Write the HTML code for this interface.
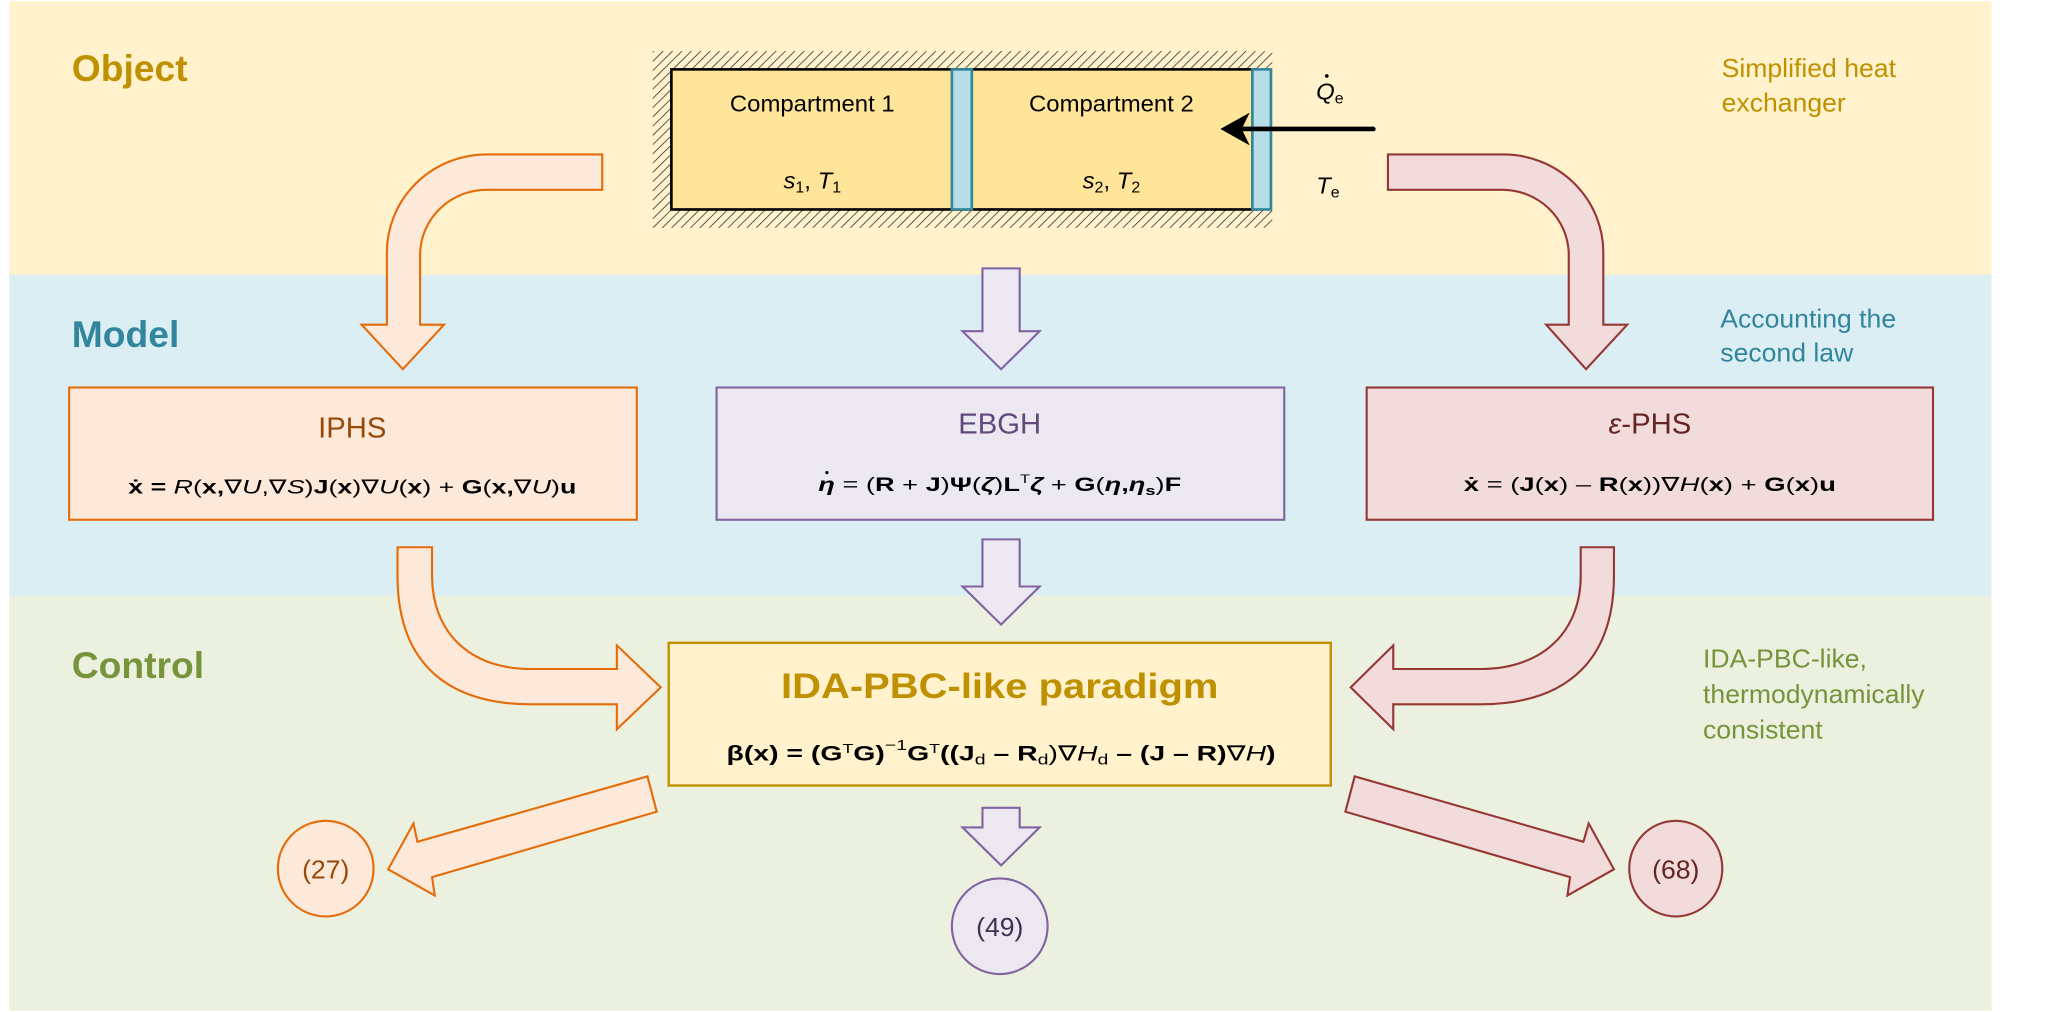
<!DOCTYPE html>
<html><head><meta charset="utf-8"><style>
html,body{margin:0;padding:0;background:#fff;}
svg{display:block;}
text{font-family:"Liberation Sans",Arial,sans-serif;}
</style></head><body>
<svg width="2054" height="1012" viewBox="0 0 1545 773" preserveAspectRatio="none" xmlns="http://www.w3.org/2000/svg">
<defs>
<pattern id="h" patternUnits="userSpaceOnUse" width="5" height="5" patternTransform="rotate(45)">
<rect width="5" height="5" fill="#fff2cc"/><line x1="0" y1="0" x2="0" y2="5" stroke="#333" stroke-width="1.2"/></pattern>
</defs>
<rect x="7" y="1" width="1491" height="210" fill="#fff2cc"/>
<rect x="7" y="210" width="1491" height="245" fill="#dbeef4"/>
<rect x="7" y="455" width="1491" height="317" fill="#ebf1de"/>

<text x="54" y="62" font-size="28" font-weight="bold" fill="#bf9000">Object</text>
<text x="54" y="265" font-size="28" font-weight="bold" fill="#31859c">Model</text>
<text x="54" y="518" font-size="28" font-weight="bold" fill="#77933c">Control</text>

<text x="1295" y="59" font-size="20" fill="#bf9000">Simplified heat</text>
<text x="1295" y="85" font-size="20" fill="#bf9000">exchanger</text>
<text x="1294" y="250" font-size="20" fill="#31859c">Accounting the</text>
<text x="1294" y="276" font-size="20" fill="#31859c">second law</text>
<text x="1281" y="510" font-size="20" fill="#77933c">IDA-PBC-like,</text>
<text x="1281" y="537" font-size="20" fill="#77933c">thermodynamically</text>
<text x="1281" y="564" font-size="20" fill="#77933c">consistent</text>

<rect x="491" y="39" width="466" height="135" fill="url(#h)"/>
<rect x="505" y="53" width="440" height="107" fill="#ffe599" stroke="#000" stroke-width="2"/>
<rect x="716" y="53" width="15" height="107" fill="#b7dee8" stroke="#31859c" stroke-width="2"/>
<rect x="942" y="53" width="14" height="107" fill="#b7dee8" stroke="#31859c" stroke-width="2"/>
<text x="611" y="85" font-size="18" text-anchor="middle">Compartment 1</text>
<text x="836" y="85" font-size="18" text-anchor="middle">Compartment 2</text>
<text x="611" y="144" font-size="18" text-anchor="middle"><tspan font-style="italic">s</tspan><tspan font-size="12" dy="3">1</tspan><tspan dy="-3">, </tspan><tspan font-style="italic">T</tspan><tspan font-size="12" dy="3">1</tspan></text>
<text x="836" y="144" font-size="18" text-anchor="middle"><tspan font-style="italic">s</tspan><tspan font-size="12" dy="3">2</tspan><tspan dy="-3">, </tspan><tspan font-style="italic">T</tspan><tspan font-size="12" dy="3">2</tspan></text>
<line x1="1033" y1="98.5" x2="935" y2="98.5" stroke="#000" stroke-width="3.5" stroke-linecap="round"/>
<polygon points="918,98.5 940,86 934,98.5 940,111" fill="#000"/>
<text x="990" y="76" font-size="18" font-style="italic">Q<tspan font-size="12" font-style="normal" dy="3">e</tspan></text>
<circle cx="998" cy="58" r="1.4" fill="#000"/>
<text x="990" y="148" font-size="18" font-style="italic">T<tspan font-size="12" font-style="normal" dy="3">e</tspan></text>

<path d="M453,118 L366,118 A75,75 0 0 0 291,193 L291,248 L272,248 L303,282 L334,248 L316,248 L316,193 A50,50 0 0 1 366,145 L453,145 Z" fill="#fde9d9" stroke="#e46c0a" stroke-width="1.6"/>
<path d="M1044,118 L1131,118 A75,75 0 0 1 1206,193 L1206,248 L1224,248 L1193,282 L1163,248 L1180,248 L1180,193 A50,50 0 0 0 1131,145 L1044,145 Z" fill="#f2dcdb" stroke="#953735" stroke-width="1.6"/>
<polygon points="739,205 767,205 767,253 782,253 753,282 724,253 739,253" fill="#ebe8f1" stroke="#8064a2" stroke-width="1.6"/>

<rect x="52" y="296" width="427" height="101" fill="#fde9d9" stroke="#e46c0a" stroke-width="1.6"/>
<text x="265" y="334" font-size="22" fill="#984807" text-anchor="middle">IPHS</text>
<text x="265" y="377" font-size="15" font-weight="bold" text-anchor="middle" textLength="337" lengthAdjust="spacingAndGlyphs">ẋ = <tspan font-style="italic" font-weight="normal">R</tspan><tspan font-weight="normal">(</tspan>x,<tspan font-weight="normal">∇</tspan><tspan font-style="italic" font-weight="normal">U</tspan><tspan font-weight="normal">,∇</tspan><tspan font-style="italic" font-weight="normal">S</tspan><tspan font-weight="normal">)</tspan>J<tspan font-weight="normal">(</tspan>x<tspan font-weight="normal">)∇</tspan><tspan font-style="italic" font-weight="normal">U</tspan><tspan font-weight="normal">(</tspan>x<tspan font-weight="normal">) + </tspan>G<tspan font-weight="normal">(</tspan>x,<tspan font-weight="normal">∇</tspan><tspan font-style="italic" font-weight="normal">U</tspan><tspan font-weight="normal">)</tspan>u</text>

<rect x="539" y="296" width="427" height="101" fill="#ebe8f1" stroke="#8064a2" stroke-width="1.6"/>
<text x="752" y="331" font-size="22" fill="#5f497a" text-anchor="middle">EBGH</text>
<text x="752" y="375" font-size="15" font-weight="bold" text-anchor="middle" textLength="273" lengthAdjust="spacingAndGlyphs"><tspan font-style="italic">η</tspan><tspan font-weight="normal"> = (</tspan>R<tspan font-weight="normal"> + </tspan>J<tspan font-weight="normal">)</tspan>Ψ<tspan font-weight="normal">(</tspan><tspan font-style="italic">ζ</tspan><tspan font-weight="normal">)</tspan>L<tspan font-size="9" font-weight="normal" dy="-6">T</tspan><tspan font-style="italic" dy="6">ζ</tspan><tspan font-weight="normal"> + </tspan>G<tspan font-weight="normal">(</tspan><tspan font-style="italic">η</tspan>,<tspan font-style="italic">η</tspan><tspan font-size="10" dy="3">s</tspan><tspan font-weight="normal" dy="-3">)</tspan>F</text>
<circle cx="622" cy="361" r="1.2" fill="#000"/>

<rect x="1028" y="296" width="426" height="101" fill="#f2dcdb" stroke="#953735" stroke-width="1.6"/>
<text x="1241" y="331" font-size="22" fill="#632523" text-anchor="middle"><tspan font-style="italic">ε</tspan>-PHS</text>
<text x="1241" y="375" font-size="15" font-weight="bold" text-anchor="middle" textLength="280" lengthAdjust="spacingAndGlyphs">ẋ<tspan font-weight="normal"> = (</tspan>J<tspan font-weight="normal">(</tspan>x<tspan font-weight="normal">) – </tspan>R<tspan font-weight="normal">(</tspan>x<tspan font-weight="normal">))∇</tspan><tspan font-style="italic" font-weight="normal">H</tspan><tspan font-weight="normal">(</tspan>x<tspan font-weight="normal">) + </tspan>G<tspan font-weight="normal">(</tspan>x<tspan font-weight="normal">)</tspan>u</text>

<polygon points="739,412 767,412 767,448 782,448 753,477 724,448 739,448" fill="#ebe8f1" stroke="#8064a2" stroke-width="1.6"/>
<path d="M299,418 L299,440 C299,500 330,538 400,538 L464,538 L464,557 L497,525 L464,493 L464,511 L400,511 C350,511 325,480 325,440 L325,418 Z" fill="#fde9d9" stroke="#e46c0a" stroke-width="1.6"/>
<path d="M1214,418 L1214,440 C1214,500 1183,538 1113,538 L1048,538 L1048,557 L1016,525 L1048,493 L1048,511 L1113,511 C1163,511 1189,480 1189,440 L1189,418 Z" fill="#f2dcdb" stroke="#953735" stroke-width="1.6"/>

<rect x="503" y="491" width="498" height="109" fill="#fff2cc" stroke="#bf9000" stroke-width="1.8"/>
<text x="752" y="533" font-size="27" font-weight="bold" fill="#bf9000" text-anchor="middle" textLength="329" lengthAdjust="spacingAndGlyphs">IDA-PBC-like paradigm</text>
<text x="753" y="581" font-size="16" font-weight="bold" text-anchor="middle" textLength="413" lengthAdjust="spacingAndGlyphs">β(x) = (G<tspan font-size="10" font-weight="normal" dy="-6">T</tspan><tspan dy="6">G)</tspan><tspan font-size="11" font-weight="normal" dy="-8">−1</tspan><tspan dy="8">G</tspan><tspan font-size="10" font-weight="normal" dy="-6">T</tspan><tspan dy="6">((J</tspan><tspan font-size="11" font-weight="normal" dy="3">d</tspan><tspan dy="-3"> – R</tspan><tspan font-size="11" font-weight="normal" dy="3">d</tspan><tspan font-weight="normal" dy="-3">)∇</tspan><tspan font-style="italic" font-weight="normal">H</tspan><tspan font-size="11" font-weight="normal" dy="3">d</tspan><tspan dy="-3"> – (J – R)</tspan><tspan font-weight="normal">∇</tspan><tspan font-style="italic" font-weight="normal">H</tspan>)</text>

<polygon points="487,593 314,643 311,629 292,664 327,684 325,670 494,620" fill="#fde9d9" stroke="#e46c0a" stroke-width="1.6"/>
<polygon points="1019,593 1191,643 1195,629 1214,664 1179,684 1181,670 1012,620" fill="#f2dcdb" stroke="#953735" stroke-width="1.6"/>
<polygon points="739,617 767,617 767,632 782,632 753,661 724,632 739,632" fill="#ebe8f1" stroke="#8064a2" stroke-width="1.6"/>

<ellipse cx="245" cy="663.5" rx="36" ry="36.5" fill="#fde9d9" stroke="#e46c0a" stroke-width="1.6"/>
<text x="245" y="671" font-size="20" fill="#984807" text-anchor="middle">(27)</text>
<ellipse cx="752" cy="707.5" rx="36" ry="36.5" fill="#ebe8f1" stroke="#8064a2" stroke-width="1.6"/>
<text x="752" y="715" font-size="20" fill="#403152" text-anchor="middle">(49)</text>
<ellipse cx="1260.5" cy="663.5" rx="35" ry="36.5" fill="#f2dcdb" stroke="#953735" stroke-width="1.6"/>
<text x="1260.5" y="671" font-size="20" fill="#632523" text-anchor="middle">(68)</text>
</svg>
</body></html>
